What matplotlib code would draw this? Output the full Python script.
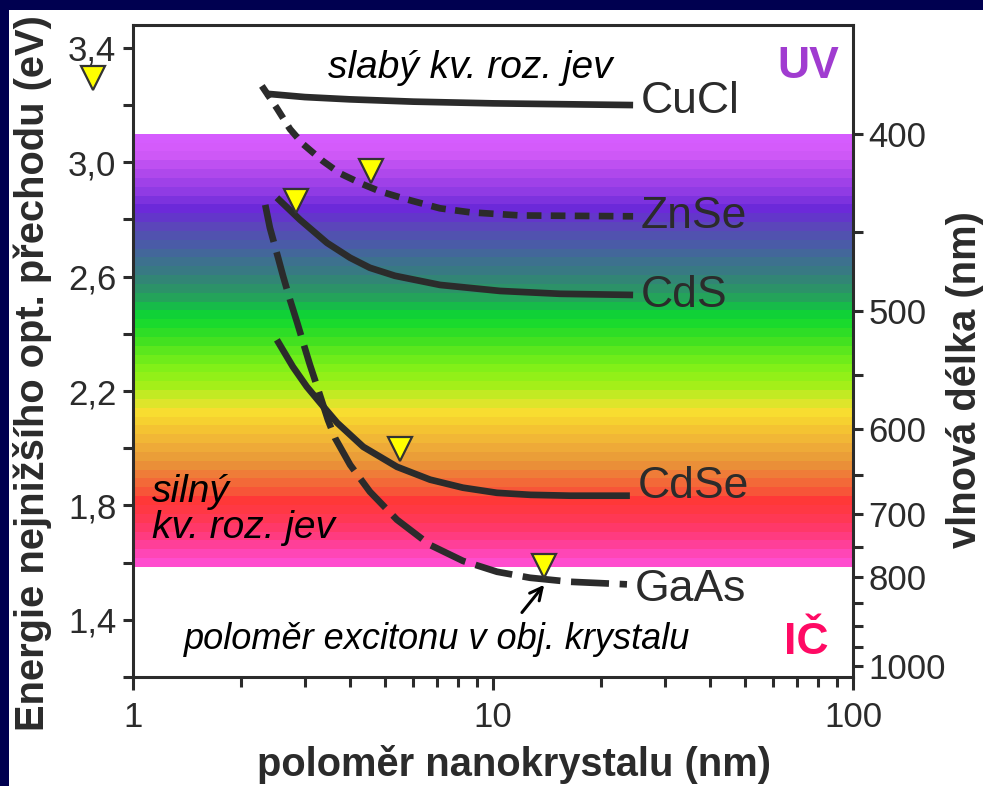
import numpy as np
import matplotlib
matplotlib.use("Agg")
import matplotlib.pyplot as plt
from matplotlib.colors import LinearSegmentedColormap
from matplotlib.patches import Rectangle

plt.rcParams['font.family'] = ['Liberation Sans', 'DejaVu Sans']

#######
# DATA
#######
# radius of nanocrystal (nm) vs energy of lowest optical transition (eV)
cucl_r = [2.33, 3.0, 4.0, 6.0, 10.0, 24.5]
cucl_E = [3.240, 3.228, 3.220, 3.212, 3.206, 3.200]

znse_r = [2.28, 2.51, 2.73, 2.97, 3.37, 3.76, 4.35, 4.86, 5.77, 7.12, 8.63, 11.9, 24.5]
znse_E = [3.267, 3.189, 3.116, 3.063, 3.004, 2.961, 2.923, 2.898, 2.870, 2.839, 2.825, 2.814, 2.811]

cds_r = [2.51, 2.91, 3.46, 4.01, 4.55, 5.34, 7.13, 10.46, 15.35, 24.5]
cds_E = [2.876, 2.799, 2.718, 2.666, 2.631, 2.603, 2.571, 2.550, 2.540, 2.536]

cdse_r = [2.51, 2.78, 3.04, 3.31, 3.69, 4.36, 5.41, 6.69, 8.25, 10.26, 12.7, 16.4, 24.0]
cdse_E = [2.379, 2.285, 2.215, 2.159, 2.089, 2.005, 1.935, 1.890, 1.862, 1.844, 1.837, 1.834, 1.834]

gaas_r = [2.33, 2.40, 2.53, 2.61, 2.73, 2.86, 3.00, 3.10, 3.27, 3.48, 3.64, 4.01, 4.55,
          5.41, 6.68, 8.25, 10.26, 12.67, 16.36, 23.56]
gaas_E = [2.851, 2.771, 2.666, 2.603, 2.519, 2.438, 2.351, 2.292, 2.204, 2.099, 2.036, 1.942,
          1.848, 1.750, 1.662, 1.606, 1.568, 1.547, 1.533, 1.524]

# exciton radius in bulk crystal (triangles)
exc_r = [0.774, 4.58, 2.84, 5.52, 13.86]
exc_E = [3.295, 2.968, 2.863, 1.996, 1.589]

# visible band: energy stops and colours
band_E = [3.10, 3.032, 2.951, 2.891, 2.835, 2.775, 2.716, 2.660, 2.600, 2.540,
          2.484, 2.449, 2.379, 2.284, 2.225, 2.168, 2.133, 2.074, 2.014, 1.958,
          1.898, 1.839, 1.818, 1.768, 1.712, 1.653, 1.585]
band_colors = ['#d65cff', '#d35af8', '#a845ea', '#8a38e2', '#6a28d8', '#5a48b8',
               '#4a5aa8', '#3e7090', '#34807a', '#289a60', '#10c840', '#10d830',
               '#40e020', '#80f018', '#a0f018', '#d0e828', '#f8e030', '#f5c830',
               '#f0b038', '#e89838', '#f07838', '#f85038', '#ff3838', '#ff3848',
               '#ff3870', '#ff40a0', '#ff50d8']
n_stripes = 49

wl_major = [400, 500, 600, 700, 800, 1000]
wl_minor = [450, 550, 650, 750, 850, 900, 950]
E_major = [1.4, 1.8, 2.2, 2.6, 3.0, 3.4]

INK = '#2b2b2b'

#######
# FIGURE
#######
fig = plt.figure(figsize=(9.83, 7.86), dpi=100)
fig.patch.set_facecolor('#000050')
fig.patches.append(Rectangle((9/983, 0), 1, 1 - 10/786, transform=fig.transFigure,
                             facecolor='white', edgecolor='none', zorder=-10))

ax = fig.add_axes([133/983, 1 - 677/786, 720/983, 652/786])
ax.set_xscale('log')
ax.set_xlim(1, 100)
ax.set_ylim(1.2, 3.48)

# stepped rainbow band
cmap = LinearSegmentedColormap.from_list(
    'band', list(zip([(band_E[0] - e) / (band_E[0] - band_E[-1]) for e in band_E], band_colors)))
h = (band_E[0] - band_E[-1]) / n_stripes
for i in range(n_stripes):
    ax.axhspan(band_E[0] - (i + 1) * h, band_E[0] - i * h, color=cmap((i + 0.5) / n_stripes),
               lw=0, zorder=0)

lw = 4.8
ax.plot(cucl_r, cucl_E, color=INK, lw=lw, solid_capstyle='butt', zorder=3)
ax.plot(znse_r, znse_E, color=INK, lw=lw, dashes=(2.2, 1.4), zorder=3)
ax.plot(cds_r, cds_E, color=INK, lw=lw, solid_capstyle='butt', zorder=3)
ax.plot(cdse_r, cdse_E, color=INK, lw=lw, solid_capstyle='butt', zorder=3)
ax.plot(gaas_r, gaas_E, color=INK, lw=lw, dashes=(5.7, 1.6), zorder=3)

ax.plot(exc_r, exc_E, 'v', ms=17, mfc='#ffff00', mec='#333333', mew=1.6,
        clip_on=False, zorder=5)

# material labels next to curve ends
for r, yl, name in [(cucl_r, 3.212, 'CuCl'), (znse_r, 2.81, 'ZnSe'), (cds_r, 2.533, 'CdS'),
                    (cdse_r, 1.865, 'CdSe'), (gaas_r, 1.505, 'GaAs')]:
    ax.text(r[-1] * 1.05, yl, name, fontsize=32, color=INK, ha='left', va='center', zorder=6)

ax.annotate('', xy=(14.03, 1.530), xytext=(11.9, 1.418),
            arrowprops=dict(arrowstyle='->', color='black', lw=2.2, mutation_scale=22), zorder=6)

ax.text(0.468, 0.934, 'slabý kv. roz. jev', transform=ax.transAxes, fontsize=28,
        style='italic', color='black', ha='center', va='center')
ax.text(0.026, 0.256, 'silný\nkv. roz. jev', transform=ax.transAxes, fontsize=28,
        style='italic', color='black', ha='left', va='center', linespacing=1.0)
ax.text(0.422, 0.057, 'poloměr excitonu v obj. krystalu', transform=ax.transAxes,
        fontsize=26, style='italic', color='black', ha='center', va='center')
ax.text(0.9375, 0.937, 'UV', transform=ax.transAxes, fontsize=32, fontweight='bold',
        color='#a03cd0', ha='center', va='center')
ax.text(0.935, 0.053, 'IČ', transform=ax.transAxes, fontsize=32, fontweight='bold',
        color='#ff0a64', ha='center', va='center')

# axes styling
for s in ax.spines.values():
    s.set_linewidth(2.2)
    s.set_color(INK)
ax.set_yticks(np.arange(1.2, 3.41, 0.2), minor=True)
ax.set_yticks(E_major)
ax.set_yticklabels([f'{v:.1f}'.replace('.', ',') for v in E_major])
ax.set_xticks([1, 10, 100])
ax.set_xticklabels(['1', '10', '100'])
ax.tick_params(axis='both', which='both', direction='out', width=2.2, color=INK,
               labelcolor=INK, labelsize=25, top=False, right=False)
ax.tick_params(axis='y', which='both', length=7, pad=5)
ax.tick_params(axis='x', which='major', length=9, pad=8)
ax.tick_params(axis='x', which='minor', length=7)

ax2 = ax.twinx()
ax2.set_ylim(ax.get_ylim())
ax2.set_yticks([1240 / w for w in wl_major])
ax2.set_yticklabels([str(w) for w in wl_major])
ax2.set_yticks([1240 / w for w in wl_minor], minor=True)
ax2.tick_params(axis='y', which='both', direction='out', length=7, width=2.2, color=INK,
                labelcolor=INK, labelsize=25, pad=4)
for s in ax2.spines.values():
    s.set_visible(False)

fig.text(33/983, 1 - 373/786, 'Energie nejnižšího opt. přechodu (eV)', rotation=90,
         fontsize=28.7, fontweight='bold', color=INK, ha='center', va='center')
fig.text(965/983, 1 - 380/786, 'vlnová délka (nm)', rotation=90,
         fontsize=28.7, fontweight='bold', color=INK, ha='center', va='center')
fig.text(514/983, 1 - 765/786, 'poloměr nanokrystalu (nm)',
         fontsize=28.7, fontweight='bold', color=INK, ha='center', va='center')

fig.savefig('out.png', dpi=100, facecolor=fig.get_facecolor())
